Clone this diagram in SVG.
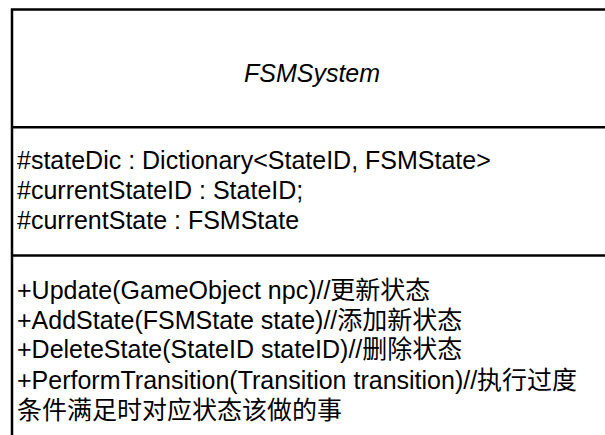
<svg xmlns="http://www.w3.org/2000/svg" width="605" height="435" viewBox="0 0 605 435">
<style>
.box{fill:#ffffff;stroke:#000000;stroke-width:2.5}
.div{stroke:#000000;stroke-width:2.5}
.t{font-family:"Liberation Sans","Noto Sans CJK SC",Arial,sans-serif;font-size:25px;fill:#000000}
.title{font-family:"Liberation Sans",Arial,sans-serif;font-size:25px;font-style:italic;fill:#000000}
</style>
<rect width="605" height="435" fill="#ffffff"/>
<g id="FSMSystem">
<rect class="box" x="12" y="9.5" width="620" height="450"/>
<line class="div" x1="12" y1="127.3" x2="632" y2="127.3"/>
<line class="div" x1="12" y1="255.5" x2="632" y2="255.5"/>
<text class="title" x="312" y="82" text-anchor="middle">FSMSystem</text>
<text class="t" x="17" y="169">#stateDic : Dictionary&lt;StateID, FSMState&gt;</text>
<text class="t" x="17" y="199">#currentStateID : StateID;</text>
<text class="t" x="17" y="229">#currentState : FSMState</text>
<text class="t" x="17" y="299">+Update(GameObject npc)//更新状态</text>
<text class="t" x="17" y="329">+AddState(FSMState state)//添加新状态</text>
<text class="t" x="17" y="358">+DeleteState(StateID stateID)//删除状态</text>
<text class="t" x="17" y="389">+PerformTransition(Transition transition)//执行过度</text>
<text class="t" x="17" y="419">条件满足时对应状态该做的事</text>
</g>
<g id="connectors"/>
</svg>
